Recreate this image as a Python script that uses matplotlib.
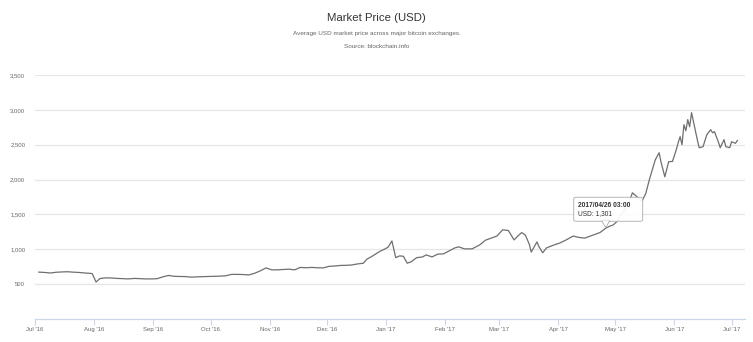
import matplotlib
matplotlib.use("Agg")
import matplotlib.pyplot as plt
import matplotlib.dates as mdates
from matplotlib.patches import FancyBboxPatch, Polygon
import numpy as np
import pandas as pd

plt.rcParams['font.family'] = ['Liberation Sans', 'DejaVu Sans']

# Average market price (USD), read at irregular dates
dates = [
    "2016-07-03", "2016-07-06", "2016-07-09", "2016-07-12", "2016-07-15", "2016-07-18",
    "2016-07-21", "2016-07-24", "2016-07-27", "2016-07-30", "2016-07-31", "2016-08-02",
    "2016-08-04", "2016-08-07", "2016-08-10", "2016-08-13", "2016-08-16", "2016-08-19",
    "2016-08-22", "2016-08-25", "2016-08-28", "2016-08-31", "2016-09-03", "2016-09-06",
    "2016-09-09", "2016-09-12", "2016-09-15", "2016-09-18", "2016-09-21", "2016-09-24",
    "2016-09-27", "2016-09-30", "2016-10-03", "2016-10-06", "2016-10-09", "2016-10-12",
    "2016-10-15", "2016-10-18", "2016-10-21", "2016-10-24", "2016-10-27", "2016-10-30",
    "2016-11-02", "2016-11-05", "2016-11-08", "2016-11-11", "2016-11-14", "2016-11-17",
    "2016-11-20", "2016-11-23", "2016-11-26", "2016-11-29", "2016-12-02", "2016-12-05",
    "2016-12-08", "2016-12-11", "2016-12-14", "2016-12-17", "2016-12-20", "2016-12-22",
    "2016-12-24", "2016-12-27", "2016-12-29", "2016-12-31", "2017-01-02", "2017-01-04",
    "2017-01-05", "2017-01-06", "2017-01-08", "2017-01-10", "2017-01-12", "2017-01-14",
    "2017-01-17", "2017-01-20", "2017-01-22", "2017-01-25", "2017-01-28", "2017-01-31",
    "2017-02-02", "2017-02-06", "2017-02-08", "2017-02-11", "2017-02-15", "2017-02-19",
    "2017-02-22", "2017-02-25", "2017-02-28", "2017-03-03", "2017-03-06", "2017-03-09",
    "2017-03-11", "2017-03-13", "2017-03-15", "2017-03-17", "2017-03-18", "2017-03-21",
    "2017-03-22", "2017-03-24", "2017-03-26", "2017-03-30", "2017-04-02", "2017-04-05",
    "2017-04-09", "2017-04-12", "2017-04-15", "2017-04-19", "2017-04-23", "2017-04-26",
    "2017-04-28", "2017-04-30", "2017-05-02", "2017-05-04", "2017-05-06", "2017-05-08",
    "2017-05-10", "2017-05-13", "2017-05-15", "2017-05-17", "2017-05-19", "2017-05-22",
    "2017-05-24", "2017-05-25", "2017-05-27", "2017-05-29", "2017-05-31", "2017-06-02",
    "2017-06-03", "2017-06-04", "2017-06-05", "2017-06-06", "2017-06-07", "2017-06-08",
    "2017-06-09", "2017-06-10", "2017-06-12", "2017-06-13", "2017-06-14", "2017-06-16",
    "2017-06-18", "2017-06-20", "2017-06-21", "2017-06-22", "2017-06-24", "2017-06-25",
    "2017-06-27", "2017-06-28", "2017-06-30", "2017-07-01", "2017-07-03", "2017-07-04",
]
prices = [
    672, 668, 660, 670, 675, 678,
    672, 668, 660, 655, 650, 530,
    580, 590, 588, 582, 578, 575,
    582, 578, 575, 575, 578, 605,
    625, 612, 610, 608, 600, 605,
    608, 610, 612, 615, 620, 640,
    640, 638, 632, 655, 690, 733,
    705, 705, 710, 715, 705, 740,
    735, 740, 735, 733, 755, 760,
    768, 770, 775, 790, 800, 860,
    890, 940, 975, 1000, 1030, 1120,
    1000, 880, 905, 900, 800, 820,
    880, 890, 920, 890, 930, 934,
    963, 1020, 1035, 1006, 1006, 1063,
    1130, 1160, 1190, 1279, 1270, 1135,
    1190, 1240, 1200, 1070, 960, 1106,
    1040, 950, 1020, 1063, 1090, 1130,
    1190, 1170, 1160, 1200, 1240, 1301,
    1330, 1350, 1400, 1500, 1560, 1650,
    1810, 1740, 1690, 1800, 2010, 2284,
    2385, 2250, 2040, 2256, 2260, 2428,
    2530, 2615, 2500, 2787, 2700, 2860,
    2758, 2960, 2700, 2572, 2457, 2471,
    2644, 2715, 2672, 2687, 2543, 2457,
    2572, 2471, 2457, 2543, 2520, 2560,
]

y_ticks = [500, 1000, 1500, 2000, 2500, 3000, 3500]
y_tick_labels = ["500", "1,000", "1,500", "2,000", "2,500", "3,000", "3,500"]
month_ticks = ["2016-07-01", "2016-08-01", "2016-09-01", "2016-10-01", "2016-11-01",
               "2016-12-01", "2017-01-01", "2017-02-01", "2017-03-01", "2017-04-01",
               "2017-05-01", "2017-06-01", "2017-07-01"]
month_labels = ["Jul '16", "Aug '16", "Sep '16", "Oct '16", "Nov '16", "Dec '16",
                "Jan '17", "Feb '17", "Mar '17", "Apr '17", "May '17", "Jun '17", "Jul '17"]

tooltip_date = "2017-04-26"
tooltip_value = prices[dates.index(tooltip_date)]
tooltip_header = "2017/04/26 03:00"

W, H = 753, 342
fig = plt.figure(figsize=(W / 100, H / 100), dpi=100)
fig.patch.set_facecolor("white")

left_px, right_px, top_px, bottom_px = 35, 745, 75, 319
ax = fig.add_axes([left_px / W, 1 - bottom_px / H,
                   (right_px - left_px) / W, (bottom_px - top_px) / H])

x = pd.to_datetime(dates)
ax.plot(x, prices, color="#6f6f6f", linewidth=0.9, solid_joinstyle="round", zorder=3)

ax.set_ylim(0, 3500)
ax.set_xlim(pd.Timestamp("2016-07-01"), pd.Timestamp("2017-07-08"))

ax.set_yticks(y_ticks)
ax.set_yticklabels(y_tick_labels)
ax.yaxis.grid(True, color="#e6e6e6", linewidth=0.9)
ax.set_axisbelow(True)

ax.set_xticks(pd.to_datetime(month_ticks))
ax.set_xticklabels(month_labels)

for s in ["top", "right", "left"]:
    ax.spines[s].set_visible(False)
ax.spines["bottom"].set_color("#ccd6eb")
ax.spines["bottom"].set_linewidth(0.9)

ax.tick_params(axis="y", length=0, pad=7, labelsize=4.3, labelcolor="#666666")
ax.tick_params(axis="x", length=4, width=0.8, color="#ccd6eb", pad=2,
               labelsize=4.3, labelcolor="#666666")
ax.set_facecolor("white")

# Titles
fig.text(0.5, 1 - 18 / H, "Market Price (USD)", ha="center", va="center",
         fontsize=8.2, color="#333333")
fig.text(0.5, 1 - 34 / H, "Average USD market price across major bitcoin exchanges.",
         ha="center", va="center", fontsize=4.6, color="#666666")
fig.text(0.5, 1 - 47 / H, "Source: blockchain.info", ha="center", va="center",
         fontsize=4.6, color="#666666")

# Tooltip callout anchored at the hovered point
fig.canvas.draw()
px, py = ax.transData.transform((mdates.date2num(pd.Timestamp(tooltip_date)), tooltip_value))
inv = fig.transFigure.inverted()

def fig_xy(dx, dy):
    return inv.transform((px + dx, py + dy))

box_l, box_r, box_b, box_t = -32, 37, 7, 31
(bl_x, bl_y) = fig_xy(box_l, box_b)
(tr_x, tr_y) = fig_xy(box_r, box_t)
box = FancyBboxPatch((bl_x, bl_y), tr_x - bl_x, tr_y - bl_y,
                     boxstyle="round,pad=0,rounding_size=0.004",
                     transform=fig.transFigure, facecolor="white", alpha=0.92,
                     edgecolor="#b0b0b0", linewidth=0.7, zorder=10)
fig.add_artist(box)
tri = Polygon([fig_xy(-4, box_b + 0.4), fig_xy(0, 1), fig_xy(4, box_b + 0.4)],
              closed=True, transform=fig.transFigure, facecolor="white",
              edgecolor="#b0b0b0", linewidth=0.7, zorder=10)
fig.add_artist(tri)
cover = Polygon([fig_xy(-3.4, box_b + 0.8), fig_xy(0, 2), fig_xy(3.4, box_b + 0.8)],
                closed=True, transform=fig.transFigure, facecolor="white",
                edgecolor="none", zorder=11)
fig.add_artist(cover)

tx, ty = fig_xy(box_l + 4, 23)
fig.text(tx, ty, tooltip_header, ha="left", va="center", fontsize=4.8,
         color="#333333", fontweight="bold", zorder=12)
tx, ty = fig_xy(box_l + 4, 15)
fig.text(tx, ty, "USD: " + f"{tooltip_value:,}", ha="left", va="center", fontsize=4.8,
         color="#333333", zorder=12)

fig.savefig("out.png", dpi=100, facecolor="white")
